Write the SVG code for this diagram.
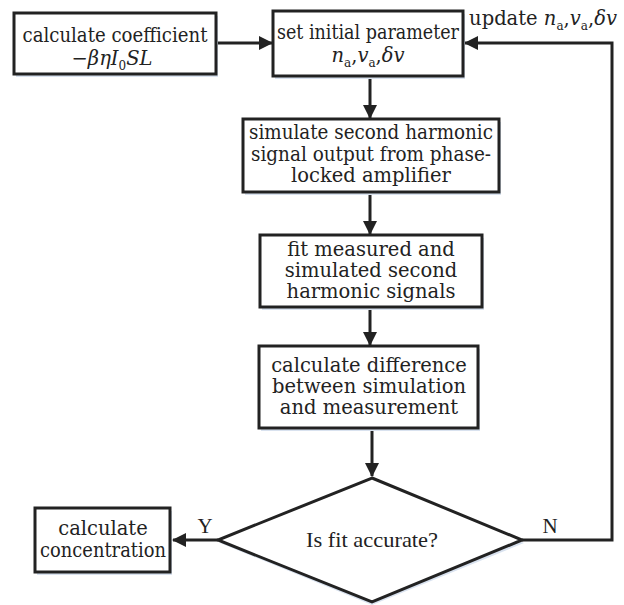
<svg xmlns="http://www.w3.org/2000/svg" width="624" height="605" viewBox="0 0 624 605">
<style>
.box{fill:#fff;stroke:#222;stroke-width:3}
.sh{fill:#d9e2ef}
.t{font-family:"DejaVu Serif","Liberation Serif",serif;font-size:19.5px;fill:#222;text-anchor:middle}
.lt{font-family:"Liberation Serif",serif;font-size:21px;fill:#222;text-anchor:middle}
.m{font-style:italic}
.sub{font-size:12px;font-style:normal}
.ln{fill:none;stroke:#222;stroke-width:3}
</style>
<defs>
<marker id="a" viewBox="0 0 14 14" refX="13" refY="7" markerWidth="14" markerHeight="14" markerUnits="userSpaceOnUse" orient="auto">
<path d="M0,0 L14,7 L0,14 Z" fill="#222"/>
</marker>
</defs>
<rect width="624" height="605" fill="#fff"/>
<g id="connectors">
<path class="ln" d="M216,43 H272" marker-end="url(#a)"/>
<path class="ln" d="M370,76 V118" marker-end="url(#a)"/>
<path class="ln" d="M370,192 V234" marker-end="url(#a)"/>
<path class="ln" d="M370,307 V345" marker-end="url(#a)"/>
<path class="ln" d="M372,428 V476" marker-end="url(#a)"/>
<path class="ln" d="M218,540 H173" marker-end="url(#a)"/>
<path class="ln" d="M522,540 H612 V43 H465" marker-end="url(#a)"/>
<text class="lt" x="205" y="533">Y</text>
<text class="lt" x="550" y="533">N</text>
<text class="t" x="543" y="25">update <tspan class="m">n</tspan><tspan class="sub" dy="5">a</tspan><tspan dy="-5">,</tspan><tspan class="m">v</tspan><tspan class="sub" dy="5">a</tspan><tspan dy="-5">,</tspan><tspan class="m">δv</tspan></text>
</g>
<g id="n1">
<rect class="sh" x="16" y="16" width="202" height="61"/>
<rect class="box" x="14" y="13" width="202" height="61"/>
<text class="t" x="115" y="42" textLength="185" lengthAdjust="spacingAndGlyphs">calculate coefficient</text>
<text class="t m" x="112" y="65">−βη<tspan>I</tspan><tspan class="sub" dy="5">0</tspan><tspan dy="-5">SL</tspan></text>
</g>
<g id="n2">
<rect class="sh" x="275" y="14" width="190" height="65"/>
<rect class="box" x="273" y="11" width="190" height="65"/>
<text class="t" x="368" y="39" textLength="182" lengthAdjust="spacingAndGlyphs">set initial parameter</text>
<text class="t" x="368" y="62"><tspan class="m">n</tspan><tspan class="sub" dy="5">a</tspan><tspan dy="-5">,</tspan><tspan class="m">v</tspan><tspan class="sub" dy="5">a</tspan><tspan dy="-5">,</tspan><tspan class="m">δv</tspan></text>
</g>
<g id="n3">
<rect class="sh" x="245" y="122" width="256" height="73"/>
<rect class="box" x="243" y="119" width="256" height="73"/>
<text class="t" x="371" y="139" textLength="244" lengthAdjust="spacingAndGlyphs">simulate second harmonic</text>
<text class="t" x="371" y="161" textLength="240" lengthAdjust="spacingAndGlyphs">signal output from phase-</text>
<text class="t" x="371" y="182">locked amplifier</text>
</g>
<g id="n4">
<rect class="sh" x="262" y="238" width="222" height="72"/>
<rect class="box" x="260" y="235" width="222" height="72"/>
<text class="t" x="371" y="256">fit measured and</text>
<text class="t" x="371" y="277">simulated second</text>
<text class="t" x="371" y="298">harmonic signals</text>
</g>
<g id="n5">
<rect class="sh" x="261" y="349" width="219" height="82"/>
<rect class="box" x="259" y="346" width="219" height="82"/>
<text class="t" x="369" y="372">calculate difference</text>
<text class="t" x="369" y="393">between simulation</text>
<text class="t" x="369" y="414">and measurement</text>
</g>
<g id="n6">
<path class="sh" d="M372,481 L524,543 L372,605 L220,543 Z"/>
<path class="box" d="M372,478 L522,540 L372,602 L218,540 Z"/>
<text class="lt" x="372" y="547" textLength="132" lengthAdjust="spacingAndGlyphs">Is fit accurate?</text>
</g>
<g id="n7">
<rect class="sh" x="37" y="511" width="135" height="64"/>
<rect class="box" x="35" y="508" width="135" height="64"/>
<text class="t" x="103" y="535">calculate</text>
<text class="t" x="103" y="557" textLength="126" lengthAdjust="spacingAndGlyphs">concentration</text>
</g>
</svg>
